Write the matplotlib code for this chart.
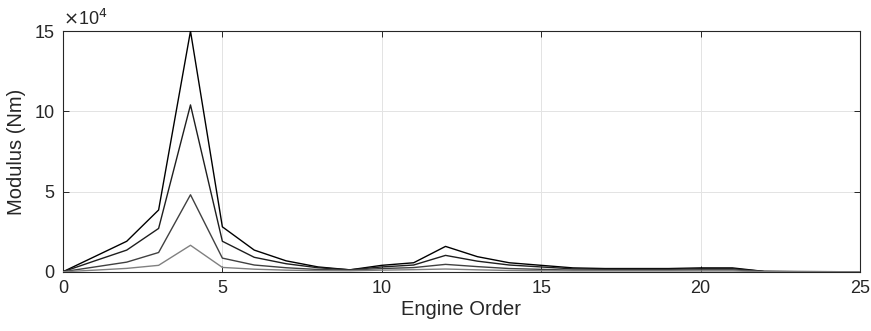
import matplotlib
matplotlib.use("Agg")
import numpy as np
import matplotlib.pyplot as plt

# ── data (values in units of 1e4 Nm) ──────────────
orders = list(range(26))
mod_a = [0, 0.95, 1.9, 3.85, 15.0, 2.8, 1.35, 0.68, 0.3, 0.12, 0.4, 0.56, 1.58,
         0.94, 0.56, 0.4, 0.24, 0.2, 0.2, 0.2, 0.24, 0.24, 0.02, 0.01, 0.005, 0]
mod_b = [0, 0.68, 1.35, 2.7, 10.4, 1.9, 0.9, 0.5, 0.25, 0.12, 0.3, 0.42, 1.02,
         0.66, 0.42, 0.3, 0.18, 0.16, 0.16, 0.16, 0.19, 0.19, 0.02, 0.01, 0.005, 0]
mod_c = [0, 0.3, 0.6, 1.2, 4.8, 0.85, 0.42, 0.25, 0.14, 0.1, 0.2, 0.26, 0.46,
         0.32, 0.2, 0.15, 0.1, 0.1, 0.1, 0.1, 0.12, 0.12, 0.01, 0, 0, 0]
mod_d = [0, 0.1, 0.21, 0.4, 1.65, 0.27, 0.16, 0.1, 0.07, 0.06, 0.1, 0.13, 0.17,
         0.12, 0.08, 0.06, 0.05, 0.05, 0.05, 0.05, 0.05, 0.05, 0.005, 0, 0, 0]
series = [mod_a, mod_b, mod_c, mod_d]
colors = ['#000000', '#1e1e1e', '#404040', '#808080']
x_ticks = [0, 5, 10, 15, 20, 25]
y_ticks = [0, 5, 10, 15]

plt.rcParams['font.family'] = ['Liberation Sans', 'DejaVu Sans']

fig = plt.figure(figsize=(8.71, 3.31), dpi=100)
ax = fig.add_axes([0.0723, 0.179, 0.915, 0.727])

for vals, c in zip(series, colors):
    ax.plot(orders, np.array(vals) * 1e4, color=c, lw=1.0, zorder=3)

ax.set_xlim(0, 25)
ax.set_ylim(0, 15e4)
ax.set_xticks(x_ticks)
ax.set_yticks([v * 1e4 for v in y_ticks])
ax.set_xticklabels([str(v) for v in x_ticks])
ax.set_yticklabels([str(v) for v in y_ticks])

ax.grid(True, color='#e3e3e3', lw=0.7, zorder=0)
ax.set_axisbelow(True)
ax.tick_params(direction='in', length=4, width=0.7, colors='#262626',
               labelsize=13, top=True, right=True, pad=6)
for sp in ax.spines.values():
    sp.set_color('#262626')
    sp.set_linewidth(0.8)

ax.set_xlabel('Engine Order', fontsize=14.5, color='#262626', labelpad=2)
ax.set_ylabel('Modulus (Nm)', fontsize=14.5, color='#262626', labelpad=6)
ax.text(0.0, 1.008, r'$\times$10$^{4}$', transform=ax.transAxes,
        ha='left', va='bottom', fontsize=13, color='#262626')

fig.savefig('out.png', dpi=100)
